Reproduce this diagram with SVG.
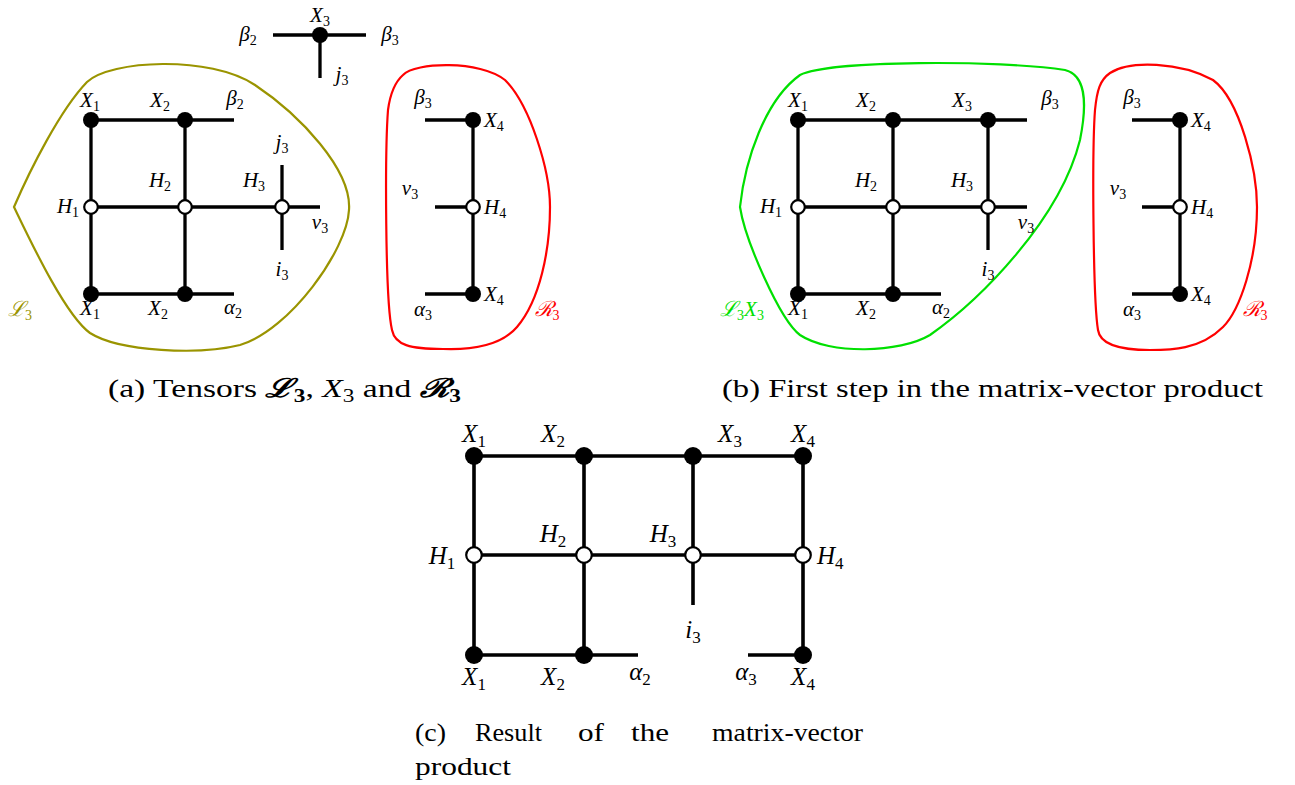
<svg xmlns="http://www.w3.org/2000/svg" width="1295" height="785" viewBox="0 0 1295 785">
<style>
.e{stroke:#000;stroke-width:3.3;fill:none;stroke-linecap:butt}
.ec{stroke:#000;stroke-width:3.6;fill:none}
.f{fill:#000}
.o{fill:#fff;stroke:#000;stroke-width:2.2}
.m{font-family:"Liberation Serif","DejaVu Serif",serif;font-style:italic;font-size:21px;fill:#000;text-anchor:middle}
.mc{font-family:"Liberation Serif","DejaVu Serif",serif;font-style:italic;font-size:25px;fill:#000;text-anchor:middle}
.st{text-anchor:start}
.sb{font-style:normal;font-size:14px}
.sbc{font-style:normal;font-size:17px}
.cap{font-family:"Liberation Serif","DejaVu Serif",serif;font-size:26px;fill:#000}
.hull{fill:none;stroke-width:2.2}
</style>
<rect width="1295" height="785" fill="#fff"/>
<!-- hulls -->
<g id="hull-L3">
<path class="hull" stroke="#9a9400" d="M14,207 C30,170 60,110 87,82 C110,60 210,55 255,85 C300,115 352,170 349,210 C347,250 290,330 240,345 C200,355 120,352 90,333 C65,315 30,240 14,207 Z"/>
<text class="m" x="20" y="316" style="fill:#9a9400">ℒ<tspan class="sb" dy="4">3</tspan></text>
</g>
<g id="hull-R3a">
<path class="hull" stroke="#ff0000" d="M403,75 C415,62 480,60 505,80 C530,105 550,170 550,207 C550,250 540,300 517,327 C500,347 470,350 443,349 C410,349 395,345 392,330 C385,300 385,150 388,110 C390,95 395,82 403,75 Z"/>
<text class="m" x="547" y="316" style="fill:#ff0000">ℛ<tspan class="sb" dy="4">3</tspan></text>
</g>
<g id="hull-L3X3">
<path class="hull" stroke="#00e000" d="M740,207 C745,160 765,100 800,75 C830,60 1000,60 1065,70 C1085,75 1088,100 1080,140 C1060,220 980,300 930,335 C900,353 830,355 800,335 C780,320 745,240 740,207 Z"/>
<text class="m" x="742" y="316" style="fill:#00e000">ℒ<tspan class="sb" dy="4">3</tspan><tspan dy="-4">X</tspan><tspan class="sb" dy="4">3</tspan></text>
</g>
<g id="hull-R3b">
<path class="hull" stroke="#ff0000" d="M1110,73 C1130,60 1180,62 1213,80 C1240,100 1257,170 1257,207 C1257,260 1240,310 1223,327 C1200,350 1170,350 1150,350 C1120,350 1100,345 1098,330 C1093,300 1092,150 1095,110 C1097,90 1100,80 1110,73 Z"/>
<text class="m" x="1255" y="316" style="fill:#ff0000">ℛ<tspan class="sb" dy="4">3</tspan></text>
</g>
<!-- connectors -->
<g id="connectors">
<path class="e" d="M273,35H366M320,35V78"/>
<path class="e" d="M91,120H234M91,294H234M91,207H320M91,120V294M185,120V294M282,165V250"/>
<path class="e" d="M425,120H473M435,207H473M425,294H473M473,120V294"/>
<path class="e" d="M798,120H1027M798,207H1027M798,294H941M798,120V294M893,120V294M988,120V250"/>
<path class="e" d="M1132,120H1180M1142,207H1180M1132,294H1180M1180,120V294"/>
<path class="ec" d="M474,456H803M474,555H803M474,655H638M748,655H803M474,456V655M584,456V655M693,456V605M803,456V655"/>
</g>
<!-- panel a nodes -->
<g id="a-X3"><circle class="f" cx="320" cy="35" r="8"/><text class="m" x="320" y="22">X<tspan class="sb" dy="4">3</tspan></text></g>
<g id="a-lbl-top"><text class="m" x="248" y="41">β<tspan class="sb" dy="4">2</tspan></text><text class="m" x="390" y="41">β<tspan class="sb" dy="4">3</tspan></text><text class="m" x="342" y="81">j<tspan class="sb" dy="4">3</tspan></text></g>
<g id="a-X1t"><circle class="f" cx="91" cy="120" r="8"/><text class="m" x="90" y="107">X<tspan class="sb" dy="4">1</tspan></text></g>
<g id="a-X2t"><circle class="f" cx="185" cy="120" r="8"/><text class="m" x="160" y="107">X<tspan class="sb" dy="4">2</tspan></text></g>
<g id="a-H1"><circle class="o" cx="91" cy="207" r="6.8"/><text class="m" x="68" y="213">H<tspan class="sb" dy="4">1</tspan></text></g>
<g id="a-H2"><circle class="o" cx="185" cy="207" r="6.8"/><text class="m" x="160" y="187">H<tspan class="sb" dy="4">2</tspan></text></g>
<g id="a-H3"><circle class="o" cx="282" cy="207" r="6.8"/><text class="m" x="254" y="187">H<tspan class="sb" dy="4">3</tspan></text></g>
<g id="a-X1b"><circle class="f" cx="91" cy="294" r="8"/><text class="m" x="90" y="315">X<tspan class="sb" dy="4">1</tspan></text></g>
<g id="a-X2b"><circle class="f" cx="185" cy="294" r="8"/><text class="m" x="158" y="315">X<tspan class="sb" dy="4">2</tspan></text></g>
<g id="a-lbls"><text class="m" x="235" y="105">β<tspan class="sb" dy="4">2</tspan></text><text class="m" x="282" y="149">j<tspan class="sb" dy="4">3</tspan></text><text class="m" x="320" y="229">ν<tspan class="sb" dy="4">3</tspan></text><text class="m" x="282" y="276">i<tspan class="sb" dy="4">3</tspan></text><text class="m" x="233" y="314">α<tspan class="sb" dy="4">2</tspan></text></g>
<g id="a-X4t"><circle class="f" cx="473" cy="120" r="8"/><text class="m st" x="484" y="127">X<tspan class="sb" dy="4">4</tspan></text></g>
<g id="a-H4"><circle class="o" cx="473" cy="207" r="6.8"/><text class="m st" x="484" y="214">H<tspan class="sb" dy="4">4</tspan></text></g>
<g id="a-X4b"><circle class="f" cx="473" cy="294" r="8"/><text class="m st" x="484" y="301">X<tspan class="sb" dy="4">4</tspan></text></g>
<g id="a-Rlbls"><text class="m" x="423" y="104">β<tspan class="sb" dy="4">3</tspan></text><text class="m" x="410" y="195">ν<tspan class="sb" dy="4">3</tspan></text><text class="m" x="423" y="316">α<tspan class="sb" dy="4">3</tspan></text></g>
<!-- panel b nodes -->
<g id="b-X1t"><circle class="f" cx="798" cy="120" r="8"/><text class="m" x="798" y="107">X<tspan class="sb" dy="4">1</tspan></text></g>
<g id="b-X2t"><circle class="f" cx="893" cy="120" r="8"/><text class="m" x="866" y="107">X<tspan class="sb" dy="4">2</tspan></text></g>
<g id="b-X3t"><circle class="f" cx="988" cy="120" r="8"/><text class="m" x="962" y="107">X<tspan class="sb" dy="4">3</tspan></text></g>
<g id="b-H1"><circle class="o" cx="798" cy="207" r="6.8"/><text class="m" x="771" y="213">H<tspan class="sb" dy="4">1</tspan></text></g>
<g id="b-H2"><circle class="o" cx="893" cy="207" r="6.8"/><text class="m" x="866" y="187">H<tspan class="sb" dy="4">2</tspan></text></g>
<g id="b-H3"><circle class="o" cx="988" cy="207" r="6.8"/><text class="m" x="962" y="187">H<tspan class="sb" dy="4">3</tspan></text></g>
<g id="b-X1b"><circle class="f" cx="798" cy="294" r="8"/><text class="m" x="798" y="315">X<tspan class="sb" dy="4">1</tspan></text></g>
<g id="b-X2b"><circle class="f" cx="893" cy="294" r="8"/><text class="m" x="866" y="315">X<tspan class="sb" dy="4">2</tspan></text></g>
<g id="b-lbls"><text class="m" x="1050" y="105">β<tspan class="sb" dy="4">3</tspan></text><text class="m" x="1026" y="229">ν<tspan class="sb" dy="4">3</tspan></text><text class="m" x="988" y="276">i<tspan class="sb" dy="4">3</tspan></text><text class="m" x="941" y="314">α<tspan class="sb" dy="4">2</tspan></text></g>
<g id="b-X4t"><circle class="f" cx="1180" cy="120" r="8"/><text class="m st" x="1191" y="127">X<tspan class="sb" dy="4">4</tspan></text></g>
<g id="b-H4"><circle class="o" cx="1180" cy="207" r="6.8"/><text class="m st" x="1191" y="214">H<tspan class="sb" dy="4">4</tspan></text></g>
<g id="b-X4b"><circle class="f" cx="1180" cy="294" r="8"/><text class="m st" x="1191" y="301">X<tspan class="sb" dy="4">4</tspan></text></g>
<g id="b-Rlbls"><text class="m" x="1132" y="104">β<tspan class="sb" dy="4">3</tspan></text><text class="m" x="1118" y="195">ν<tspan class="sb" dy="4">3</tspan></text><text class="m" x="1132" y="316">α<tspan class="sb" dy="4">3</tspan></text></g>
<!-- panel c nodes -->
<g id="c-X1t"><circle class="f" cx="474" cy="456" r="9"/><text class="mc" x="474" y="442">X<tspan class="sbc" dy="5">1</tspan></text></g>
<g id="c-X2t"><circle class="f" cx="584" cy="456" r="9"/><text class="mc" x="553" y="442">X<tspan class="sbc" dy="5">2</tspan></text></g>
<g id="c-X3t"><circle class="f" cx="693" cy="456" r="9"/><text class="mc" x="730" y="442">X<tspan class="sbc" dy="5">3</tspan></text></g>
<g id="c-X4t"><circle class="f" cx="803" cy="456" r="9"/><text class="mc" x="803" y="442">X<tspan class="sbc" dy="5">4</tspan></text></g>
<g id="c-H1"><circle class="o" cx="474" cy="555" r="7.8"/><text class="mc" x="442" y="564">H<tspan class="sbc" dy="5">1</tspan></text></g>
<g id="c-H2"><circle class="o" cx="584" cy="555" r="7.8"/><text class="mc" x="553" y="542">H<tspan class="sbc" dy="5">2</tspan></text></g>
<g id="c-H3"><circle class="o" cx="693" cy="555" r="7.8"/><text class="mc" x="663" y="542">H<tspan class="sbc" dy="5">3</tspan></text></g>
<g id="c-H4"><circle class="o" cx="803" cy="555" r="7.8"/><text class="mc st" x="817" y="564">H<tspan class="sbc" dy="5">4</tspan></text></g>
<g id="c-X1b"><circle class="f" cx="474" cy="655" r="9"/><text class="mc" x="474" y="685">X<tspan class="sbc" dy="5">1</tspan></text></g>
<g id="c-X2b"><circle class="f" cx="584" cy="655" r="9"/><text class="mc" x="553" y="685">X<tspan class="sbc" dy="5">2</tspan></text></g>
<g id="c-X4b"><circle class="f" cx="803" cy="655" r="9"/><text class="mc" x="803" y="685">X<tspan class="sbc" dy="5">4</tspan></text></g>
<g id="c-lbls"><text class="mc" x="693" y="638">i<tspan class="sbc" dy="5">3</tspan></text><text class="mc" x="640" y="680">α<tspan class="sbc" dy="5">2</tspan></text><text class="mc" x="746" y="680">α<tspan class="sbc" dy="5">3</tspan></text></g>
<!-- captions -->
<g id="captions">
<text class="cap" x="108" y="397" textLength="353" lengthAdjust="spacingAndGlyphs">(a) Tensors <tspan font-weight="bold" font-style="italic">ℒ</tspan><tspan font-weight="bold" font-size="18" dy="5">3</tspan><tspan dy="-5">, </tspan><tspan font-style="italic">X</tspan><tspan font-size="18" dy="5">3</tspan><tspan dy="-5"> and </tspan><tspan font-weight="bold" font-style="italic">ℛ</tspan><tspan font-weight="bold" font-size="18" dy="5">3</tspan></text>
<text class="cap" x="722" y="397" textLength="541" lengthAdjust="spacingAndGlyphs">(b) First step in the matrix-vector product</text>
<text class="cap" x="415" y="741" textLength="31" lengthAdjust="spacingAndGlyphs">(c)</text>
<text class="cap" x="475" y="741" textLength="67" lengthAdjust="spacingAndGlyphs">Result</text>
<text class="cap" x="578" y="741" textLength="26" lengthAdjust="spacingAndGlyphs">of</text>
<text class="cap" x="631" y="741" textLength="38" lengthAdjust="spacingAndGlyphs">the</text>
<text class="cap" x="712" y="741" textLength="151" lengthAdjust="spacingAndGlyphs">matrix-vector</text>
<text class="cap" x="415" y="775" textLength="96" lengthAdjust="spacingAndGlyphs">product</text>
</g>
</svg>
